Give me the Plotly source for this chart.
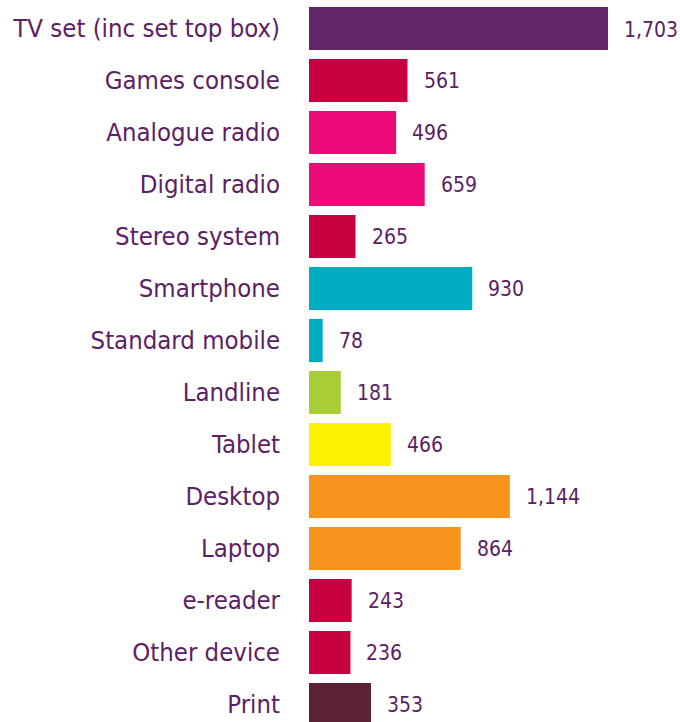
import plotly.graph_objects as go

# Device usage counts
categories = [
    "TV set (inc set top box)", "Games console", "Analogue radio", "Digital radio",
    "Stereo system", "Smartphone", "Standard mobile", "Landline", "Tablet",
    "Desktop", "Laptop", "e-reader", "Other device", "Print",
]
values = [1703, 561, 496, 659, 265, 930, 78, 181, 466, 1144, 864, 243, 236, 353]
colors = [
    "#622567", "#C9003F", "#EE0A78", "#EE0A78", "#C9003F", "#00ACC1", "#00ACC1",
    "#A9CD37", "#FFF200", "#F7941E", "#F7941E", "#C9003F", "#C9003F", "#5C2238",
]

text_color = "#5B2163"
label_font = "DejaVu Sans Condensed, sans-serif"

fig = go.Figure(
    go.Bar(
        x=values,
        y=categories,
        orientation="h",
        marker=dict(color=colors, line=dict(width=0)),
        width=0.83,
        hoverinfo="x+y",
    )
)

# Value labels just past each bar end
for cat, val in zip(categories, values):
    fig.add_annotation(
        x=val, y=cat, text=f"{val:,}", showarrow=False,
        xanchor="left", yanchor="middle", xshift=14, yshift=-1,
        font=dict(family=label_font, size=21, color=text_color),
    )

fig.update_layout(
    width=680, height=722,
    margin=dict(l=309, r=0, t=0, b=0),
    paper_bgcolor="white", plot_bgcolor="white",
    showlegend=False,
    bargap=0.17,
)
fig.update_xaxes(range=[0, 2113], visible=False, showgrid=False, zeroline=False,
                 automargin=False)
fig.update_yaxes(
    categoryorder="array", categoryarray=categories,
    range=[13.337, -0.548],
    showgrid=False, zeroline=False, showline=False, ticks="",
    ticklabelstandoff=28, automargin=False,
    tickfont=dict(family=label_font, size=25.5, color=text_color),
)

fig.write_html("out.html")
